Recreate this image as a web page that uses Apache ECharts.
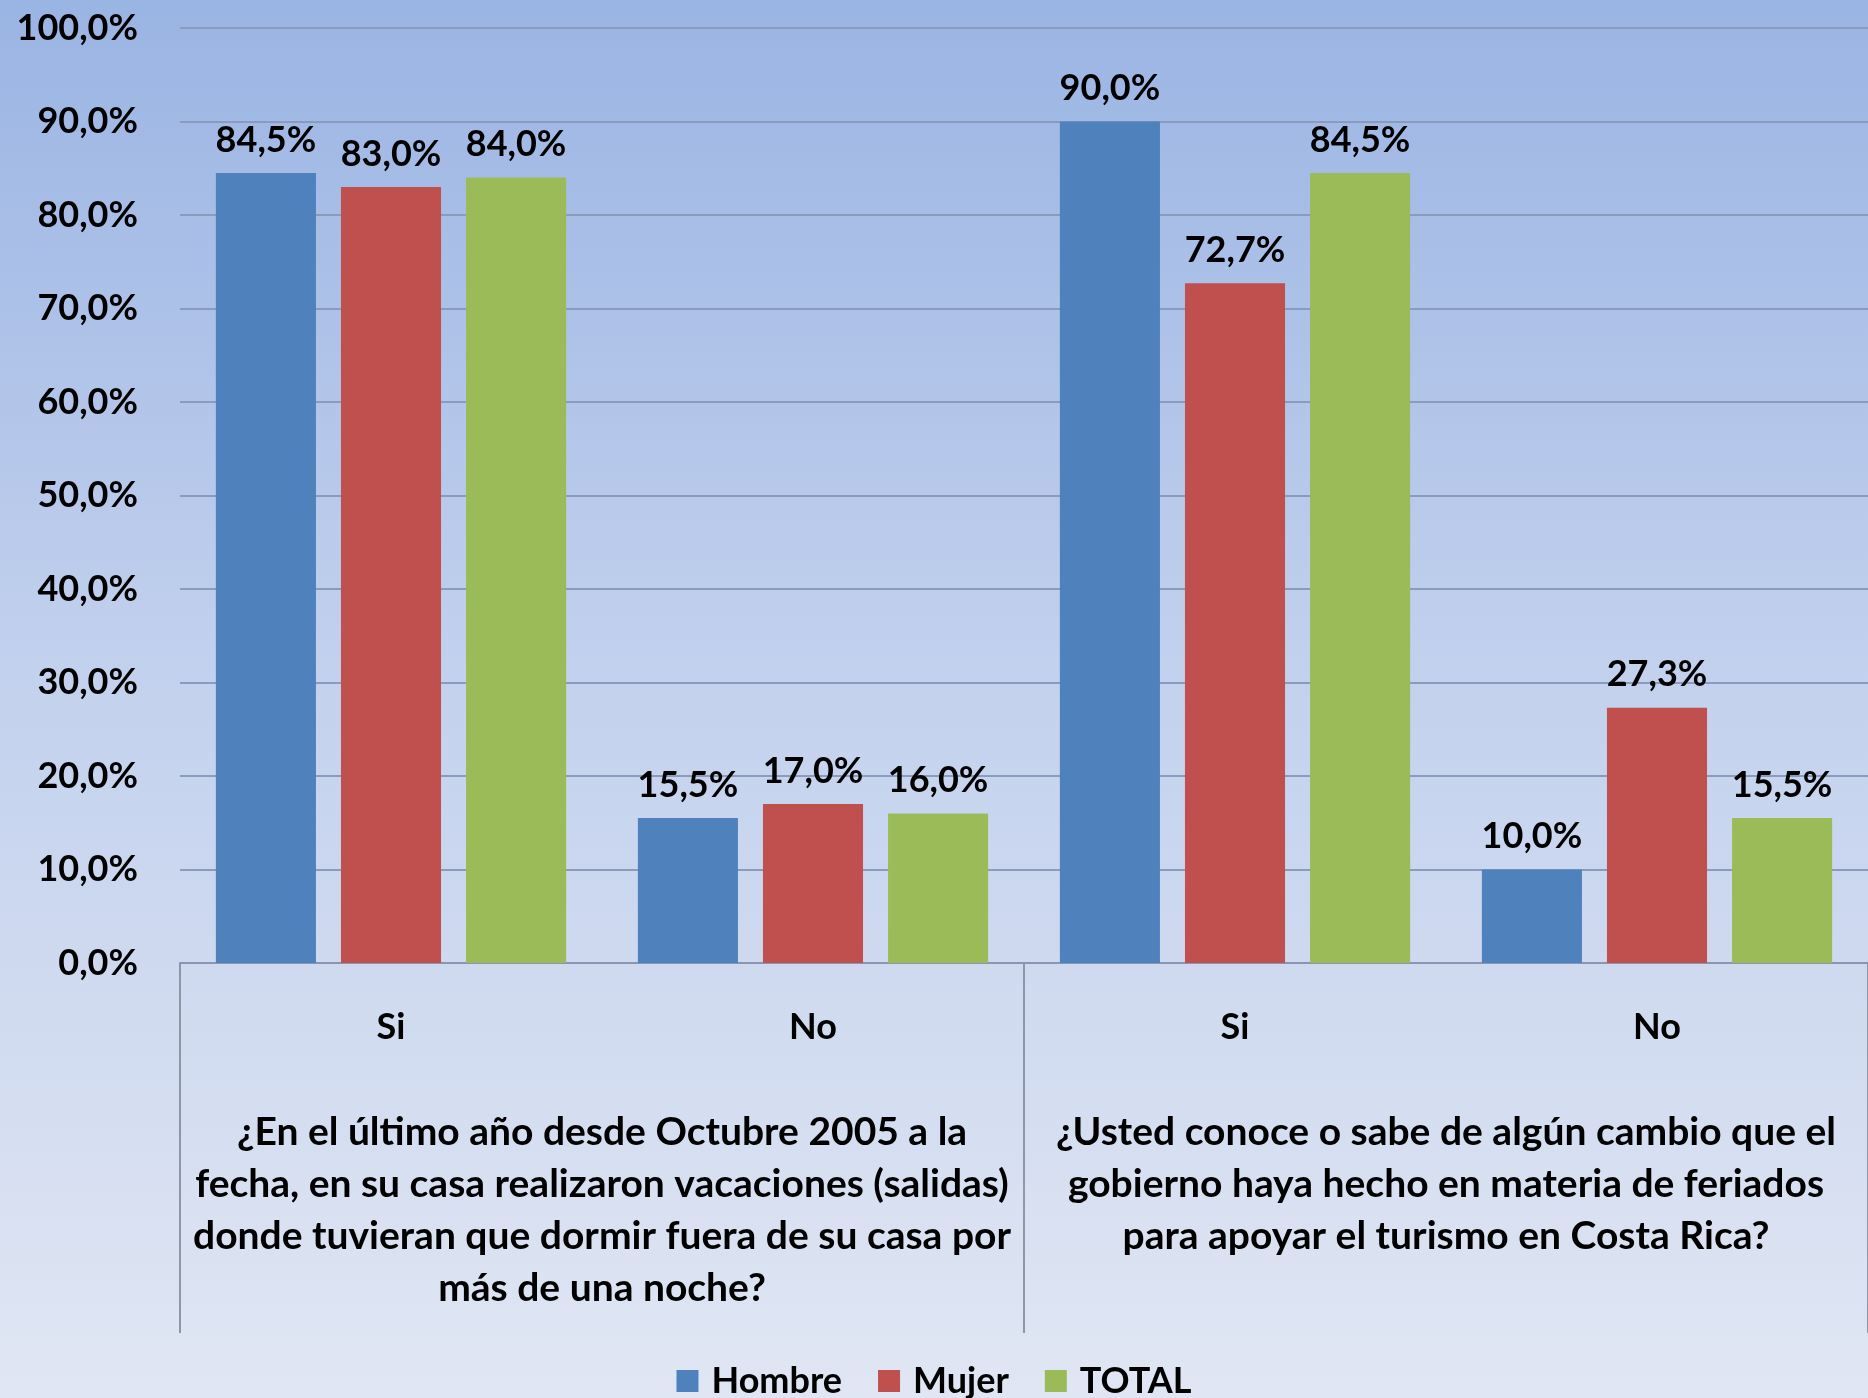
<!DOCTYPE html>
<html>
<head>
<meta charset="utf-8">
<script src="https://cdn.jsdelivr.net/npm/echarts@6/dist/echarts.min.js"></script>
<style>
  html, body { margin: 0; padding: 0; }
  #chart { width: 1868px; height: 1398px; }
</style>
</head>
<body>
<div id="chart"></div>
<script>
const categories = ['Si', 'No', 'Si', 'No'];
const questions = [
  '¿En el último año desde Octubre 2005 a la\nfecha, en su casa realizaron vacaciones (salidas)\ndonde tuvieran que dormir fuera de su casa por\nmás de una noche?',
  '¿Usted conoce o sabe de algún cambio que el\ngobierno haya hecho en materia de feriados\npara apoyar el turismo en Costa Rica?'
];
const hombre = [84.5, 15.5, 90.0, 10.0];
const mujer = [83.0, 17.0, 72.7, 27.3];
const total = [84.0, 16.0, 84.5, 15.5];

const fontFamily = 'Lato, "Open Sans", sans-serif';
const fmt = (v) => v.toFixed(1).replace('.', ',') + '%';

const myChart = echarts.init(document.getElementById('chart'), null, { renderer: 'canvas' });

const labelStyle = {
  show: true,
  position: 'top',
  distance: 15,
  color: '#000',
  fontFamily: fontFamily,
  fontWeight: 'bold',
  fontSize: 36,
  formatter: (p) => fmt(p.value)
};

const makeSeries = (name, data, color) => ({
  name: name,
  type: 'bar',
  data: data,
  xAxisIndex: 0,
  barGap: '25%',
  barCategoryGap: '17%',
  itemStyle: { color: color },
  label: labelStyle
});

const option = {
  animation: false,
  backgroundColor: {
    type: 'linear', x: 0, y: 0, x2: 0, y2: 1,
    colorStops: [
      { offset: 0, color: '#9ab4e3' },
      { offset: 0.5, color: '#c4d2ee' },
      { offset: 1, color: '#e0e6f3' }
    ]
  },
  grid: { left: 180, right: -5, top: 28, bottom: 435, containLabel: false },
  legend: {
    data: ['Hombre', 'Mujer', 'TOTAL'],
    top: 1358,
    left: 'center',
    icon: 'rect',
    itemWidth: 22,
    itemHeight: 22,
    itemGap: 36,
    textStyle: {
      fontFamily: fontFamily, fontSize: 36, fontWeight: 'bold', color: '#000',
      padding: [0, 0, 0, 8]
    }
  },
  xAxis: [
    {
      type: 'category',
      data: categories,
      axisLine: { lineStyle: { color: '#8896b4', width: 2 } },
      axisTick: { show: false },
      axisLabel: {
        margin: 46,
        color: '#000',
        fontFamily: fontFamily,
        fontWeight: 'bold',
        fontSize: 36
      }
    },
    {
      type: 'category',
      position: 'bottom',
      data: questions,
      axisLine: { show: false },
      axisTick: { show: true, length: 370, inside: false, lineStyle: { color: '#8d97a8', width: 2 } },
      axisLabel: {
        margin: 143,
        verticalAlign: 'top',
        lineHeight: 52,
        color: '#000',
        fontFamily: fontFamily,
        fontWeight: 'bold',
        fontSize: 39,
        interval: 0
      }
    }
  ],
  yAxis: {
    type: 'value',
    min: 0,
    max: 100,
    interval: 10,
    axisLine: { show: false },
    axisTick: { show: false },
    splitLine: { lineStyle: { color: '#8a9bbd', width: 2 } },
    axisLabel: {
      margin: 42,
      color: '#000',
      fontFamily: fontFamily,
      fontWeight: 'bold',
      fontSize: 36,
      formatter: (v) => fmt(v)
    }
  },
  series: [
    makeSeries('Hombre', hombre, '#4f81bd'),
    makeSeries('Mujer', mujer, '#c0504d'),
    makeSeries('TOTAL', total, '#9bbb59')
  ]
};

myChart.setOption(option);
window.addEventListener('resize', myChart.resize);
</script>
</body>
</html>
